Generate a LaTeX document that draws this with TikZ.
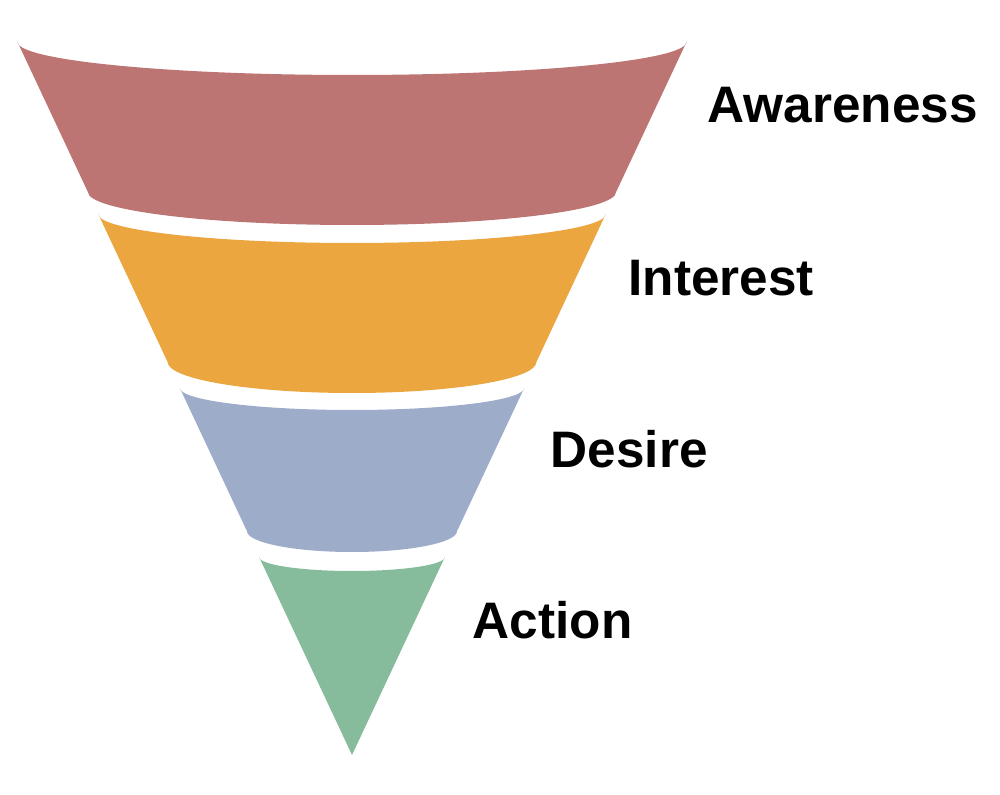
\documentclass[tikz,border=0pt]{standalone}
\usepackage{fontspec}
\setmainfont{Liberation Sans}
\usepackage{tikz}
\usetikzlibrary{positioning}

\definecolor{awarecol}{RGB}{189,117,115}
\definecolor{interestcol}{RGB}{235,166,64}
\definecolor{desirecol}{RGB}{157,172,200}
\definecolor{actioncol}{RGB}{134,187,155}

\begin{document}
\begin{tikzpicture}[
    band/.style={fill=#1, draw=none},
    stage/.style={anchor=base west, inner sep=0pt, font=\fontsize{14.6pt}{17pt}\selectfont\bfseries}
  ]
    \useasboundingbox (0,0) rectangle (10,7.94);
    % Awareness band (top)
    \fill[band=awarecol] (0.175,7.52) -- (0.879,6.02)
        arc[start angle=180, end angle=360, x radius=2.641, y radius=0.33]
        -- (6.865,7.52)
        arc[start angle=0, end angle=-180, x radius=3.345, y radius=0.33] -- cycle;
    % Interest band
    \fill[band=interestcol] (0.982,5.80) -- (1.676,4.32)
        arc[start angle=180, end angle=360, x radius=1.844, y radius=0.31]
        -- (6.058,5.80)
        arc[start angle=0, end angle=-180, x radius=2.538, y radius=0.29] -- cycle;
    % Desire band
    \fill[band=desirecol] (1.798,4.06) -- (2.469,2.63)
        arc[start angle=180, end angle=360, x radius=1.051, y radius=0.21]
        -- (5.242,4.06)
        arc[start angle=0, end angle=-180, x radius=1.722, y radius=0.22] -- cycle;
    % Action tip
    \fill[band=actioncol] (2.591,2.37) -- (3.52,0.39) -- (4.449,2.37)
        arc[start angle=0, end angle=-180, x radius=0.929, y radius=0.14] -- cycle;
    % Labels
    \node[stage] (aware) at (7.07,6.71) {Awareness};
    \node[stage] (interest) at (6.28,4.98) {Interest};
    \node[stage] (desire) at (5.50,3.27) {Desire};
    \node[stage] (action) at (4.72,1.56) {Action};
\end{tikzpicture}
\end{document}
